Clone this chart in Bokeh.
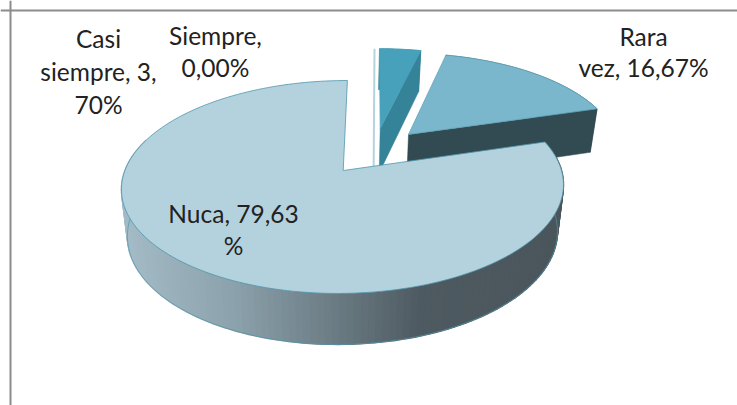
import math
from bokeh.plotting import figure
from bokeh.models import Range1d, Span
from bokeh.core.properties import value
from bokeh.embed import file_html
from bokeh.resources import INLINE

# ---- data (clockwise from 12 o'clock, in the order of the pie) ----
categories = ["Siempre", "Casi siempre", "Rara vez", "Nuca"]
percents = [0.00, 3.70, 16.67, 79.63]

label_lines = [["Siempre,", "0,00%"], ["Casi", "siempre, 3,", "70%"], ["Rara", "vez, 16,67%"], ["Nuca, 79,63", "%"]]
label_x = [215, 98, 643, 233]
label_y = [[35, 67], [38, 71, 104], [36, 67], [213, 245]]

top_colors = ["#b5d3df", "#47a1ba", "#7ab7cc", "#b4d2de"]
wall_colors = ["#b5d3df", "#358399", "#324a52", "#4b565c"]
edge_colors = ["#9cc6d4", "#47a1ba", "#5fa3ba", "#4f97ad"]

# ---- perspective model of the pie, page pixels ----
X0, Y0, A, B, K = 374.0, 150.6, 212.0, 98.0, 0.15
DEPTH, SHRINK, XC, EXPLODE = 45.3, 0.027, 341.0, 0.24

W, H = 737, 405
p = figure(width=W, height=H, x_range=Range1d(0, W), y_range=Range1d(H, 0),
           toolbar_location=None, output_backend="svg", min_border=0)
p.axis.visible = False
p.grid.visible = False
p.outline_line_color = None
p.background_fill_color = "#ffffff"
p.add_layout(Span(location=10, dimension="width", line_color="#8c8c8c", line_width=2))
p.add_layout(Span(location=10, dimension="height", line_color="#8c8c8c", line_width=2))


def top_pt(u, v):
    w = 1 + K * v
    return X0 + A * u / w, Y0 - B * v / w


def bot_pt(u, v):
    w = 1 + K * v
    x, y = top_pt(u, v)
    return x - SHRINK * (x - XC), y + DEPTH / w ** 0.6


GRAD = [(125, (0xa3, 0xbb, 0xc6)), (230, (0x8c, 0xa2, 0xac)), (340, (0x69, 0x79, 0x81)),
        (420, (0x4e, 0x5a, 0x61)), (560, (0x4b, 0x56, 0x5c))]


def grad(x):
    for (x1, c1), (x2, c2) in zip(GRAD, GRAD[1:]):
        if x <= x2:
            t = max(0.0, (x - x1) / (x2 - x1))
            return "#%02x%02x%02x" % tuple(round(a + (b - a) * t) for a, b in zip(c1, c2))
    return "#%02x%02x%02x" % GRAD[-1][1]


total = sum(percents)
start = 0.0
for i, pct in enumerate(percents):
    a1 = start
    a2 = start + pct / total * 2 * math.pi
    start = a2
    mid = (a1 + a2) / 2
    u0, v0 = EXPLODE * math.sin(mid), EXPLODE * math.cos(mid)
    n = max(2, int(pct * 2.2))
    ths = [a1 + (a2 - a1) * j / n for j in range(n + 1)]
    rim = [(u0 + math.sin(t), v0 + math.cos(t)) for t in ths]

    if pct == 0:  # an empty slice is only a thin upright sheet
        x1, y1 = top_pt(*rim[0])
        x2, y2 = bot_pt(u0, v0)
        p.line([x1, x2], [y1, y2], line_color=top_colors[i], line_width=2)
        continue

    tops = [top_pt(u, v) for u, v in rim]
    bots = [bot_pt(u, v) for u, v in rim]
    at, ab = top_pt(u0, v0), bot_pt(u0, v0)

    if pct > 50:  # outer wall with a left-to-right shading, front part only
        xs, ys, cs = [], [], []
        for j in range(n):
            if math.cos(ths[j]) > 0.3 and math.cos(ths[j + 1]) > 0.3:
                continue
            xs.append([tops[j][0], tops[j + 1][0], bots[j + 1][0], bots[j][0]])
            ys.append([tops[j][1], tops[j + 1][1], bots[j + 1][1], bots[j][1]])
            cs.append(grad((tops[j][0] + tops[j + 1][0]) / 2))
        p.patches(xs, ys, fill_color=cs, line_color=cs, line_width=1.5)
        front = [b for b, t in zip(bots, ths) if math.cos(t) <= 0.3]
        p.line([b[0] for b in front], [b[1] for b in front], line_color=edge_colors[i], line_width=1, line_alpha=0.7)
    else:
        p.patch([t[0] for t in tops] + [b[0] for b in reversed(bots)],
                [t[1] for t in tops] + [b[1] for b in reversed(bots)],
                fill_color=wall_colors[i], line_color=wall_colors[i], line_width=0.5)
        p.patch([at[0], tops[-1][0], bots[-1][0], ab[0]], [at[1], tops[-1][1], bots[-1][1], ab[1]],
                fill_color=wall_colors[i], line_color=wall_colors[i], line_width=0.5)

    p.patch([at[0]] + [t[0] for t in tops], [at[1]] + [t[1] for t in tops],
            fill_color=top_colors[i], line_color=edge_colors[i], line_width=0.8, line_join="round")

for lines, lx, lys in zip(label_lines, label_x, label_y):
    p.text([lx] * len(lines), lys, text=lines, text_font=value("Lato"), text_font_size="24.5px",
           text_color="#222222", text_align="center", text_baseline="middle")

open("out.html", "w").write(file_html(p, INLINE))
